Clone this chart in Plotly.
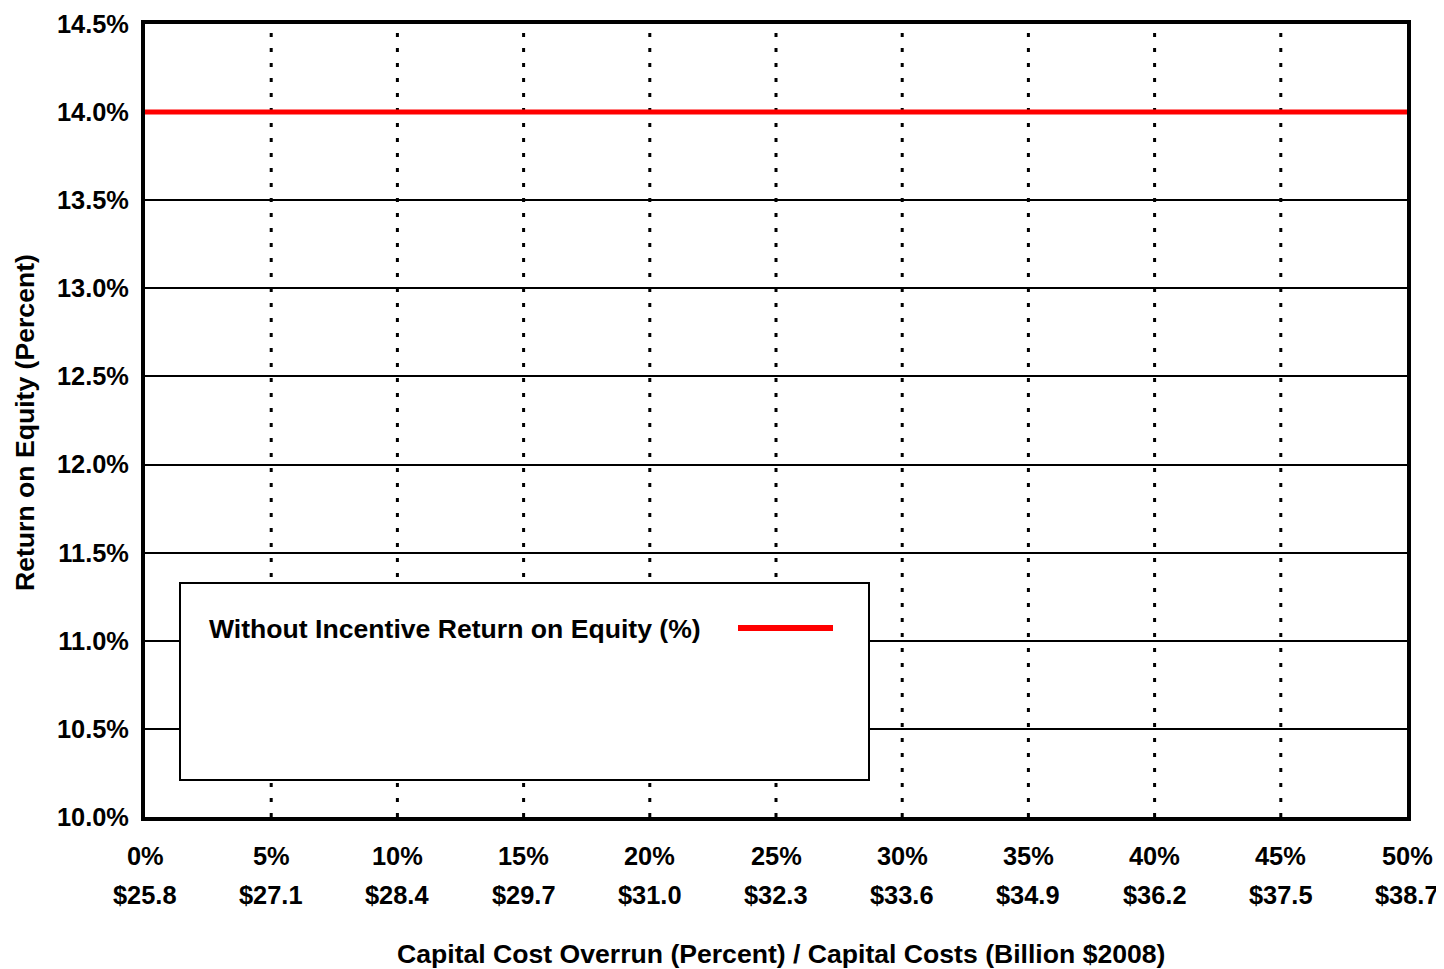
import plotly.graph_objects as go

overrun_pct = [0, 5, 10, 15, 20, 25, 30, 35, 40, 45, 50]
pct_labels = ["0%", "5%", "10%", "15%", "20%", "25%", "30%", "35%", "40%", "45%", "50%"]
cost_labels = ["$25.8", "$27.1", "$28.4", "$29.7", "$31.0", "$32.3", "$33.6", "$34.9", "$36.2", "$37.5", "$38.7"]
roe_without_incentive = [14.0] * 11
y_ticks = [10.0, 10.5, 11.0, 11.5, 12.0, 12.5, 13.0, 13.5, 14.0, 14.5]
y_tick_labels = ["10.0%", "10.5%", "11.0%", "11.5%", "12.0%", "12.5%", "13.0%", "13.5%", "14.0%", "14.5%"]
series_name = "Without Incentive Return on Equity (%)"
x_title = "Capital Cost Overrun (Percent) / Capital Costs (Billion $2008)"
y_title = "Return on Equity (Percent)"

FONT = "Liberation Sans, Arial, sans-serif"
TICK_SIZE = 25.4
TITLE_SIZE = 26.6

# target plot area in page pixels
PL, PR, PT, PB = 145, 1407, 24, 817
OFF = 8  # page body margin
W, H = 1444 - OFF, 969 - OFF
PW, PH = PR - PL, PB - PT


def px(xp):
    return (xp - PL) / PW


def py(yp):
    return (PB - yp) / PH


fig = go.Figure()
fig.add_trace(go.Scatter(
    x=overrun_pct, y=roe_without_incentive, mode="lines",
    line=dict(color="#ff0000", width=5), name=series_name, showlegend=False,
    cliponaxis=False,
))

# vertical dotted grid lines
for xv in overrun_pct[1:-1]:
    fig.add_shape(type="line", xref="x", yref="paper", x0=xv, x1=xv, y0=0, y1=1,
                  line=dict(color="black", width=3, dash="4px,11px"), layer="below")

# two-row x tick labels
for xv, lab in zip(overrun_pct, pct_labels):
    fig.add_annotation(x=xv, xref="x", y=py(856), yref="paper", text="<b>%s</b>" % lab,
                       showarrow=False, font=dict(family=FONT, size=TICK_SIZE, color="black"),
                       xanchor="center", yanchor="middle")
for xv, lab in zip(overrun_pct, cost_labels):
    fig.add_annotation(x=xv, xref="x", y=py(895), yref="paper", text="<b>%s</b>" % lab,
                       showarrow=False, font=dict(family=FONT, size=TICK_SIZE, color="black"),
                       xanchor="center", yanchor="middle")

# axis titles
fig.add_annotation(xref="paper", yref="paper", x=px(781), y=py(954),
                   text="<b>%s</b>" % x_title, showarrow=False,
                   font=dict(family=FONT, size=TITLE_SIZE, color="black"),
                   xanchor="center", yanchor="middle")
fig.add_annotation(xref="paper", yref="paper", x=px(25), y=py(423),
                   text="<b>%s</b>" % y_title, showarrow=False, textangle=-90,
                   font=dict(family=FONT, size=TITLE_SIZE, color="black"),
                   xanchor="center", yanchor="middle")

# legend box
fig.add_shape(type="rect", xref="paper", yref="paper",
              x0=px(180), x1=px(869), y0=py(780), y1=py(583),
              line=dict(color="black", width=2), fillcolor="white", layer="above")
fig.add_annotation(xref="paper", yref="paper", x=px(207), y=py(629),
                   text="<b>%s</b>" % series_name, showarrow=False,
                   font=dict(family=FONT, size=TITLE_SIZE, color="black"),
                   xanchor="left", yanchor="middle")
fig.add_shape(type="line", xref="paper", yref="paper",
              x0=px(738), x1=px(833), y0=py(628), y1=py(628),
              line=dict(color="#ff0000", width=6), layer="above")

fig.update_layout(
    width=W, height=H,
    margin=dict(l=PL - OFF, r=W + OFF - PR, t=PT - OFF, b=H + OFF - PB, autoexpand=False),
    paper_bgcolor="white", plot_bgcolor="white",
    font=dict(family=FONT, size=TICK_SIZE, color="black"),
    xaxis=dict(
        range=[0, 50], tickmode="array", tickvals=overrun_pct,
        showticklabels=False, automargin=False,
        showgrid=False, zeroline=False, showline=True, mirror=True,
        linecolor="black", linewidth=4, ticks="",
    ),
    yaxis=dict(
        range=[10.0, 14.5], tickmode="array", tickvals=y_ticks,
        ticktext=["<b>%s</b>" % t for t in y_tick_labels], automargin=False,
        showgrid=True, gridcolor="black", gridwidth=2, zeroline=False,
        showline=True, mirror=True, linecolor="black", linewidth=4,
        ticks="", ticklabelstandoff=7,
        tickfont=dict(family=FONT, size=TICK_SIZE, color="black"),
    ),
)

fig.write_html("out.html")
